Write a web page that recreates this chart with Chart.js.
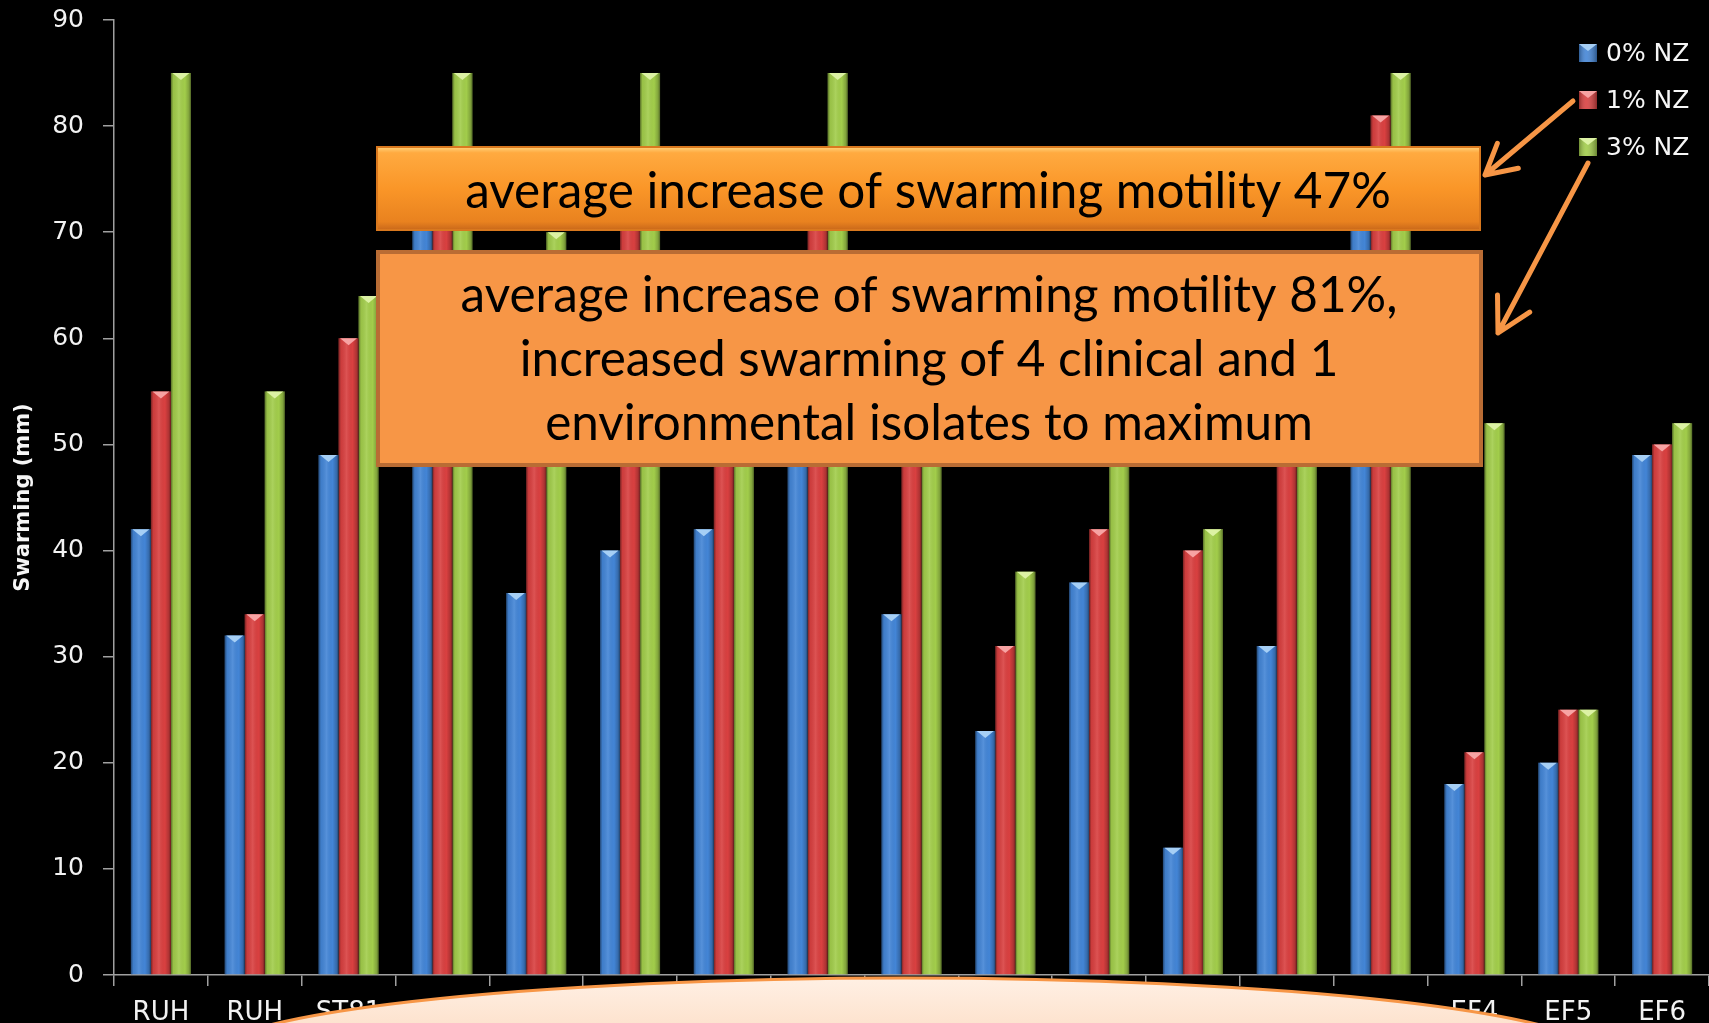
<!DOCTYPE html>
<html>
<head>
<meta charset="utf-8">
<script src="https://cdn.jsdelivr.net/npm/chart.js@4.4.1/dist/chart.umd.min.js"></script>
<style>
  html, body { margin: 0; padding: 0; background: #000; overflow: hidden; }
  #wrap { position: relative; width: 1709px; height: 1037px; margin-top: -14px; }
</style>
</head>
<body>
<div id="wrap"><canvas id="c"></canvas></div>
<script>
// Isolates on the x axis
const isolates = ['RUH', 'RUH', 'ST81', 'ST82', 'ST83', 'ST84', 'ST85', 'ST86', 'ST87',
                  'ST88', 'ST89', 'EF1', 'EF2', 'EF3', 'EF4', 'EF5', 'EF6'];

// Swarming diameter (mm) at each NZ concentration
const nz0 = [42, 32, 49, 74, 36, 40, 42, 55, 34, 23, 37, 12, 31, 72, 18, 20, 49];
const nz1 = [55, 34, 60, 78, 58, 72, 58, 72, 55, 31, 42, 40, 55, 81, 21, 25, 50];
const nz3 = [85, 55, 64, 85, 70, 85, 62, 85, 60, 38, 52, 42, 58, 85, 52, 25, 52];

const seriesNames = ['0% NZ', '1% NZ', '3% NZ'];
const yTicks = [0, 10, 20, 30, 40, 50, 60, 70, 80, 90];

const baseColors = ['#4385d6', '#d94040', '#a2cd4b'];
const capColors  = ['#a6cff5', '#f7a3a3', '#dcf2a4'];

const note1 = 'average increase of swarming motility 47%';
const note2 = ['average increase of swarming motility 81%,',
               'increased swarming of 4 clinical and 1',
               'environmental isolates to maximum'];

const AXIS_FONT = 'DejaVu Sans';
const NOTE_FONT = 'Lato';
// the canvas starts above the page top; overlay drawing is in page coordinates
const SHIFT = 14;

// cylinder-like shading and a light bevel cap on every bar
const barShade = {
  id: 'barShade',
  afterDatasetsDraw(chart) {
    const ctx = chart.ctx;
    ctx.save();
    chart.data.datasets.forEach((ds, i) => {
      const meta = chart.getDatasetMeta(i);
      meta.data.forEach(bar => {
        const p = bar.getProps(['x', 'y', 'base', 'width'], true);
        const l = p.x - p.width / 2, r = p.x + p.width / 2;
        const g = ctx.createLinearGradient(l, 0, r, 0);
        g.addColorStop(0, 'rgba(0,0,0,0.45)');
        g.addColorStop(0.12, 'rgba(0,0,0,0.06)');
        g.addColorStop(0.4, 'rgba(255,255,255,0.10)');
        g.addColorStop(0.7, 'rgba(0,0,0,0.0)');
        g.addColorStop(0.9, 'rgba(0,0,0,0.2)');
        g.addColorStop(1, 'rgba(0,0,0,0.48)');
        ctx.fillStyle = g;
        ctx.fillRect(l, p.y, p.width, p.base - p.y);
        ctx.fillStyle = capColors[i];
        ctx.beginPath();
        ctx.moveTo(l + 1.5, p.y);
        ctx.lineTo(r - 1.5, p.y);
        ctx.lineTo(p.x, p.y + 7);
        ctx.closePath();
        ctx.fill();
      });
    });
    ctx.restore();
  }
};

// legend in the top-right corner of the plot
const cornerLegend = {
  id: 'cornerLegend',
  afterDatasetsDraw(chart) {
    const ctx = chart.ctx;
    ctx.save();
    ctx.translate(0, SHIFT);
    const rows = [53, 100, 147];
    seriesNames.forEach((name, i) => {
      const y = rows[i];
      const x = 1579;
      const s = 18;
      const g = ctx.createLinearGradient(x, 0, x + s, 0);
      g.addColorStop(0, 'rgba(0,0,0,0.3)');
      g.addColorStop(0.4, 'rgba(255,255,255,0.1)');
      g.addColorStop(1, 'rgba(0,0,0,0.35)');
      ctx.fillStyle = baseColors[i];
      ctx.fillRect(x, y - s / 2, s, s);
      ctx.fillStyle = g;
      ctx.fillRect(x, y - s / 2, s, s);
      ctx.fillStyle = capColors[i];
      ctx.beginPath();
      ctx.moveTo(x, y - s / 2);
      ctx.lineTo(x + s, y - s / 2);
      ctx.lineTo(x + s / 2, y - s / 2 + 7);
      ctx.closePath();
      ctx.fill();
      ctx.fillStyle = '#f6f6f6';
      ctx.font = '25px "' + AXIS_FONT + '"';
      ctx.textAlign = 'left';
      ctx.textBaseline = 'middle';
      ctx.fillText(name, 1606, y + 1);
    });
    ctx.restore();
  }
};

function arrow(ctx, x1, y1, x2, y2, wing) {
  const a = Math.atan2(y2 - y1, x2 - x1);
  ctx.beginPath();
  ctx.moveTo(x1, y1);
  ctx.lineTo(x2, y2);
  ctx.moveTo(x2 - wing * Math.cos(a - 0.5), y2 - wing * Math.sin(a - 0.5));
  ctx.lineTo(x2, y2);
  ctx.lineTo(x2 - wing * Math.cos(a + 0.5), y2 - wing * Math.sin(a + 0.5));
  ctx.stroke();
}

// callout boxes, arrows and the rounded banner along the bottom
const callouts = {
  id: 'callouts',
  afterDraw(chart) {
    const ctx = chart.ctx;
    ctx.save();
    ctx.translate(0, SHIFT);

    // font size that sets the widest note line to its width
    ctx.font = '100px "' + NOTE_FONT + '"';
    const fs = 100 * 937 / ctx.measureText(note2[0]).width;
    const font = fs.toFixed(2) + 'px "' + NOTE_FONT + '"';

    // upper box (bevelled orange)
    let bx = 377, by = 147, bw = 1103, bh = 83;
    let g = ctx.createLinearGradient(0, by, 0, by + bh);
    g.addColorStop(0, '#ffd27a');
    g.addColorStop(0.07, '#ffaa40');
    g.addColorStop(0.5, '#fa9628');
    g.addColorStop(0.9, '#e9821f');
    g.addColorStop(1, '#c9681a');
    ctx.fillStyle = g;
    ctx.fillRect(bx, by, bw, bh);
    ctx.strokeStyle = '#d9781e';
    ctx.lineWidth = 2;
    ctx.strokeRect(bx, by, bw, bh);
    ctx.fillStyle = '#000';
    ctx.font = font;
    ctx.textAlign = 'center';
    ctx.textBaseline = 'alphabetic';
    ctx.fillText(note1, 928, 208);

    // lower box (flat orange with darker rim)
    bx = 378; by = 252; bw = 1103; bh = 213;
    ctx.fillStyle = '#f79646';
    ctx.fillRect(bx, by, bw, bh);
    ctx.strokeStyle = '#b96c34';
    ctx.lineWidth = 4;
    ctx.strokeRect(bx, by, bw, bh);
    ctx.fillStyle = '#000';
    const bases = [312, 376, 440];
    note2.forEach((t, i) => ctx.fillText(t, 929, bases[i]));

    // arrows from the legend entries
    ctx.strokeStyle = '#f79646';
    ctx.lineWidth = 5;
    ctx.lineCap = 'round';
    ctx.lineJoin = 'round';
    arrow(ctx, 1573, 101, 1485, 175, 34);
    arrow(ctx, 1588, 163, 1498, 333, 38);

    // banner at the bottom
    ctx.beginPath();
    ctx.ellipse(905, 1059, 700, 81, 0, 0, Math.PI * 2);
    g = ctx.createLinearGradient(0, 978, 0, 1023);
    g.addColorStop(0, '#fff0e4');
    g.addColorStop(1, '#fde3cf');
    ctx.fillStyle = g;
    ctx.fill();
    ctx.strokeStyle = '#f79646';
    ctx.lineWidth = 3;
    ctx.stroke();

    ctx.restore();
  }
};

const datasets = [nz0, nz1, nz3].map((vals, i) => ({
  label: seriesNames[i],
  data: vals,
  backgroundColor: baseColors[i],
  borderWidth: 0,
  barPercentage: 1.0,
  categoryPercentage: 0.64
}));

new Chart(document.getElementById('c'), {
  type: 'bar',
  data: { labels: isolates, datasets },
  options: {
    responsive: true,
    maintainAspectRatio: false,
    animation: false,
    layout: { padding: { top: 5, right: 0, bottom: 0, left: 0 } },
    plugins: { legend: { display: false }, tooltip: { enabled: false } },
    scales: {
      x: {
        afterFit(s) { s.height = 48; },
        grid: { offset: true, drawOnChartArea: false, tickLength: 11, color: '#a0a0a0', lineWidth: 1.5 },
        border: { color: '#a0a0a0', width: 1.5 },
        ticks: {
          color: '#f2f2f2',
          font: { family: AXIS_FONT, size: 26 },
          padding: 12,
          maxRotation: 0,
          autoSkip: false
        }
      },
      y: {
        min: 0,
        max: 90,
        afterFit(s) { s.width = 114; },
        afterBuildTicks(s) { s.ticks = yTicks.map(v => ({ value: v })); },
        grid: { drawOnChartArea: false, tickLength: 11, color: '#a0a0a0', lineWidth: 1.5 },
        border: { color: '#a0a0a0', width: 1.5 },
        ticks: {
          color: '#f2f2f2',
          font: { family: AXIS_FONT, size: 25 },
          padding: 19
        },
        title: {
          display: true,
          text: 'Swarming (mm)',
          color: '#f6f6f6',
          font: { family: AXIS_FONT, size: 21, weight: 'bold' },
          padding: { top: 11, bottom: 0 }
        }
      }
    }
  },
  plugins: [barShade, cornerLegend, callouts]
});
</script>
</body>
</html>
